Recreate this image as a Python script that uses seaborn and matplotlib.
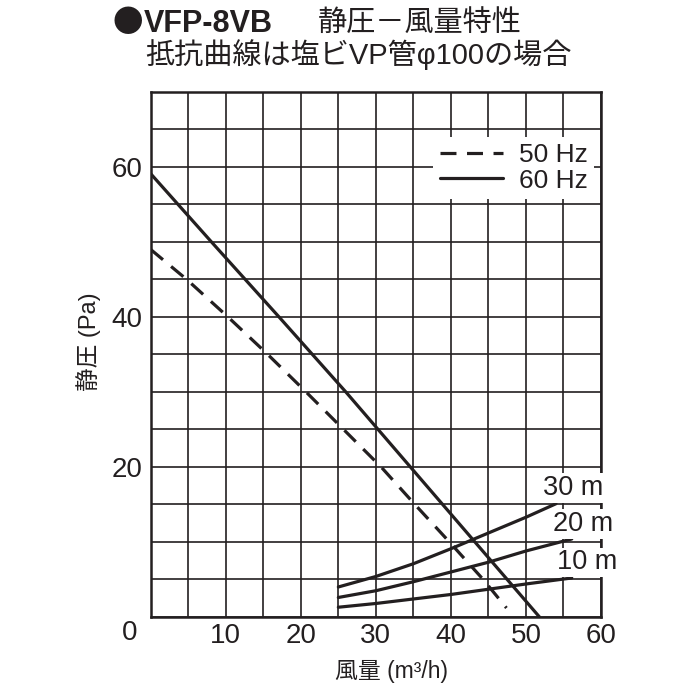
import numpy as np
import pandas as pd
import matplotlib
matplotlib.use("Agg")
import matplotlib.pyplot as plt
from matplotlib.ticker import MultipleLocator
import seaborn as sns

# fan curves (風量 m3/h, 静圧 Pa)
flow_50 = [0, 4.8, 10.3, 15.6, 20.7, 25.7, 30.7, 35.2, 39.8, 44.3, 47.4]
pres_50 = [49.0, 45.0, 40.0, 35.0, 30.0, 25.0, 20.0, 15.0, 10.0, 5.0, 1.2]
flow_60 = [0, 8.1, 17.1, 26.0, 34.6, 43.2, 51.8]
pres_60 = [59.1, 50.0, 40.0, 30.0, 20.0, 10.0, 0.0]

# resistance curves for pipe lengths
res_30_q = [25, 30, 35, 40, 45, 50, 54.0]
res_30_p = [4.0, 5.4, 7.1, 9.1, 11.2, 13.3, 15.1]
res_20_q = [25, 30, 35, 40, 45, 50, 56.1]
res_20_p = [2.6, 3.5, 4.7, 6.0, 7.3, 8.8, 10.4]
res_10_q = [25, 30, 35, 40, 45, 50, 56.1]
res_10_p = [1.3, 1.8, 2.4, 3.0, 3.7, 4.4, 5.2]
res_labels = ["30 m", "20 m", "10 m"]
res_label_pos = [(56.3, 17.2), (57.6, 12.4), (58.2, 7.3)]

x_ticks = [10, 20, 30, 40, 50, 60]
y_ticks = [20, 40, 60]

sns.set_style("white")
plt.rcParams["font.family"] = ["Liberation Sans", "Noto Sans CJK JP", "DejaVu Sans"]

ink = "#231f20"
fig = plt.figure(figsize=(7, 7), dpi=100)
ax = fig.add_axes([0.2153, 0.1186, 0.6433, 0.75])

df_50 = pd.DataFrame({"q": flow_50, "p": pres_50})
df_60 = pd.DataFrame({"q": flow_60, "p": pres_60})
sns.lineplot(data=df_50, x="q", y="p", ax=ax, color=ink, lw=2.3, sort=False,
             estimator=None, label="50 Hz", zorder=4)
ax.lines[-1].set_dashes((5, 3.3))
sns.lineplot(data=df_60, x="q", y="p", ax=ax, color=ink, lw=2.3, sort=False,
             estimator=None, label="60 Hz", zorder=4)

for q, p in [(res_30_q, res_30_p), (res_20_q, res_20_p), (res_10_q, res_10_p)]:
    sns.lineplot(x=q, y=p, ax=ax, color=ink, lw=2.3, sort=False,
                 estimator=None, legend=False, zorder=4)

for lab, (lx, ly) in zip(res_labels, res_label_pos):
    ax.text(lx, ly, lab, fontsize=19.5, color=ink, ha="center", va="center",
            clip_on=False, zorder=6,
            bbox=dict(facecolor="white", edgecolor="none", pad=1.2))

ax.set_xlim(0, 60)
ax.set_ylim(0, 70)
ax.set_xticks(x_ticks)
ax.set_yticks(y_ticks)
ax.xaxis.set_minor_locator(MultipleLocator(5))
ax.yaxis.set_minor_locator(MultipleLocator(5))
ax.grid(which="both", color=ink, lw=1.2)
ax.set_axisbelow(True)
ax.tick_params(which="both", length=0, labelsize=20, colors=ink)
ax.tick_params(axis="x", pad=4)
ax.tick_params(axis="y", pad=6)
for s in ax.spines.values():
    s.set_color(ink)
    s.set_linewidth(1.8)

ax.text(-2.75, -2.2, "0", fontsize=20, color=ink, ha="center", va="center",
        clip_on=False)

ax.set_xlabel("風量 (m³/h)", fontsize=16.5, color=ink)
ax.xaxis.label.set_va("center")
ax.xaxis.set_label_coords(0.534, -0.103)
ax.set_ylabel("静圧 (Pa)", fontsize=17, color=ink)
ax.yaxis.label.set_va("center")
ax.yaxis.set_label_coords(-0.139, 0.524)

leg = ax.legend(loc="upper right", bbox_to_anchor=(0.985, 0.915), borderaxespad=0,
                fontsize=19, handlelength=2.4, handletextpad=0.6, labelspacing=0.05,
                borderpad=0.25, frameon=True, fancybox=False, framealpha=1)
leg.get_frame().set_edgecolor("none")
leg.get_frame().set_facecolor("white")
for t in leg.get_texts():
    t.set_color(ink)

fig.text(113 / 700, 1 - 24 / 700, "●", fontsize=22, family=["Noto Sans CJK JP"],
         color=ink, ha="left", va="center")
fig.text(144 / 700, 1 - 24 / 700, "VFP-8VB", fontsize=22, fontweight="bold",
         family=["Liberation Sans"], color=ink, ha="left", va="center")
fig.text(318 / 700, 1 - 23 / 700, "静圧－風量特性", fontsize=21, color=ink,
         family=["Noto Sans CJK JP"], ha="left", va="center")
fig.text(145 / 700, 1 - 55 / 700, "抵抗曲線は塩ビVP管φ100の場合", fontsize=21,
         color=ink, family=["Liberation Sans", "Noto Sans CJK JP"],
         ha="left", va="center")

fig.savefig("out.png", dpi=100)
